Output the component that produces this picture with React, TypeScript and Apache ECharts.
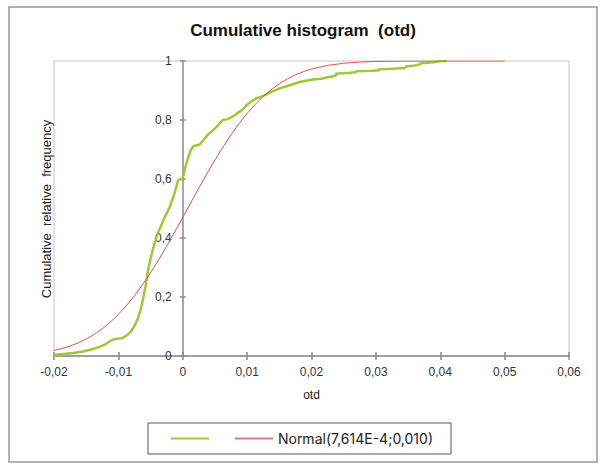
import React, { useEffect, useRef } from "react";
import * as echarts from "echarts";

const otdValues = [
  -0.02, -0.0198, -0.0185, -0.017, -0.0155, -0.0142, -0.013, -0.012, -0.0112, -0.0105,
  -0.0095, -0.0088, -0.0082, -0.0076, -0.007, -0.0065, -0.0061, -0.0057, -0.0054, -0.005,
  -0.0046, -0.004, -0.0034, -0.0028, -0.002, -0.0013, -0.0007, -0.0001, 0.0001, 0.0004,
  0.0008, 0.0013, 0.0017, 0.0026, 0.0033, 0.004, 0.0047, 0.0054, 0.0062, 0.007,
  0.0078, 0.0086, 0.0093, 0.01, 0.0106, 0.0114, 0.0125, 0.014, 0.0152, 0.0166,
  0.018, 0.0195, 0.0205, 0.0215, 0.0225, 0.0238, 0.0238, 0.026, 0.0269, 0.0269,
  0.0295, 0.0305, 0.0305, 0.0326, 0.0345, 0.0347, 0.036, 0.0368, 0.037, 0.039,
  0.0401, 0.041,
];
const cumFreq = [
  0.0, 0.004, 0.007, 0.01, 0.015, 0.022, 0.03, 0.04, 0.052, 0.058,
  0.06, 0.068, 0.08, 0.098, 0.125, 0.16, 0.2, 0.245, 0.29, 0.33,
  0.365, 0.41, 0.44, 0.47, 0.506, 0.55, 0.597, 0.6, 0.61, 0.64,
  0.67, 0.7, 0.712, 0.716, 0.735, 0.752, 0.765, 0.78, 0.8, 0.803,
  0.812, 0.825, 0.835, 0.852, 0.862, 0.873, 0.882, 0.898, 0.908, 0.918,
  0.928, 0.935, 0.938, 0.94, 0.945, 0.95, 0.957, 0.96, 0.962, 0.965,
  0.967, 0.969, 0.972, 0.974, 0.976, 0.981, 0.985, 0.988, 0.992, 0.996,
  1.0, 1.0,
];

// Normal(7,614E-4; 0,010) cumulative curve
const normalX = [
  -0.02, -0.01875, -0.0175, -0.01625, -0.015, -0.01375, -0.0125, -0.01125, -0.01, -0.00875,
  -0.0075, -0.00625, -0.005, -0.00375, -0.0025, -0.00125, 0.0, 0.00125, 0.0025, 0.00375,
  0.005, 0.00625, 0.0075, 0.00875, 0.01, 0.01125, 0.0125, 0.01375, 0.015, 0.01625,
  0.0175, 0.01875, 0.02, 0.0225, 0.025, 0.0275, 0.03, 0.0325, 0.035, 0.04, 0.05,
];
const normalP = [
  0.0189, 0.0255, 0.0339, 0.0445, 0.0575, 0.0734, 0.0924, 0.1149, 0.141, 0.1708,
  0.2044, 0.2417, 0.2823, 0.326, 0.3722, 0.4203, 0.4697, 0.5195, 0.5691, 0.6175,
  0.6642, 0.7085, 0.7498, 0.7879, 0.8222, 0.8529, 0.8798, 0.903, 0.9228, 0.9393,
  0.9529, 0.964, 0.9728, 0.9851, 0.9923, 0.9963, 0.9983, 0.9992, 0.9997, 1.0, 1.0,
];

const titleText = "Cumulative histogram  (otd)";
const xName = "otd";
const yName = "Cumulative  relative  frequency";
const normalName = "Normal(7,614E-4;0,010)";
const otdName = " ";

const FONT = "'Liberation Sans', Arial, sans-serif";

const fmt = (v: number, d: number) => {
  if (Math.abs(v) < 1e-9) return "0";
  if (Math.abs(v - 1) < 1e-9) return "1";
  return v.toFixed(d).replace(".", ",");
};

export default function App() {
  const ref = useRef<HTMLDivElement>(null);
  useEffect(() => {
    if (!ref.current) return;
    const chart = echarts.init(ref.current, undefined, { renderer: "svg" });
    const axisGray = "#8a8a8a";
    const gridLeft = 54;
    const gridRight = 37;
    const xMin = -0.02;
    const xMax = 0.06;
    const plotWidth = 606 - gridLeft - gridRight;
    // shift the y axis so that it sits at x = 0 (Excel-style crossing)
    const yOffset = -((0 - xMin) / (xMax - xMin)) * plotWidth;
    const xCommon = {
      type: "value" as const,
      min: xMin,
      max: xMax,
      interval: 0.01,
      position: "bottom" as const,
      splitLine: { show: false },
    };
    const yCommon = {
      type: "value" as const,
      min: 0,
      max: 1,
      interval: 0.2,
      position: "left" as const,
      offset: yOffset,
      splitLine: { show: false },
    };
    chart.setOption({
      animation: false,
      backgroundColor: "#ffffff",
      title: {
        text: titleText,
        left: "center",
        top: 22,
        padding: 0,
        textStyle: { fontFamily: FONT, fontSize: 17, fontWeight: "bold", color: "#111" },
      },
      grid: {
        left: gridLeft,
        right: gridRight,
        top: 61,
        bottom: 109,
        show: true,
        borderColor: "#c4c4c4",
        borderWidth: 1,
        backgroundColor: "transparent",
      },
      xAxis: [
        {
          ...xCommon,
          name: xName,
          nameLocation: "middle",
          nameGap: 33,
          nameTextStyle: { fontFamily: FONT, fontSize: 12, color: "#222" },
          axisLine: { show: true, onZero: false, lineStyle: { color: axisGray, width: 1.5 } },
          axisTick: { show: true, length: 4, lineStyle: { color: axisGray, width: 1.5 } },
          axisLabel: {
            fontFamily: FONT,
            fontSize: 12,
            color: "#333",
            margin: 10,
            formatter: (v: number) => fmt(v, 2),
          },
        },
        {
          ...xCommon,
          axisLine: { show: false, onZero: false },
          axisTick: { show: true, inside: true, length: 4, lineStyle: { color: axisGray, width: 1.5 } },
          axisLabel: { show: false },
        },
      ],
      yAxis: [
        {
          ...yCommon,
          axisLine: { show: true, onZero: false, lineStyle: { color: axisGray, width: 1.5 } },
          axisTick: { show: true, length: 3, lineStyle: { color: axisGray, width: 1.5 } },
          axisLabel: {
            fontFamily: FONT,
            fontSize: 12,
            color: "#333",
            margin: 11,
            formatter: (v: number) => fmt(v, 1),
          },
        },
        {
          ...yCommon,
          axisLine: { show: false, onZero: false },
          axisTick: { show: true, inside: true, length: 3, lineStyle: { color: axisGray, width: 1.5 } },
          axisLabel: { show: false },
        },
      ],
      legend: {
        left: 148,
        top: 423,
        orient: "horizontal",
        data: [{ name: otdName }, { name: normalName }],
        icon: "rect",
        borderColor: "#555",
        borderWidth: 1,
        padding: [8, 18, 8, 23],
        itemWidth: 38,
        itemHeight: 2,
        itemGap: 17,
        textStyle: { fontFamily: "Inter, 'Open Sans', sans-serif", fontSize: 14, color: "#222", lineHeight: 15 },
      },
      graphic: [
        {
          type: "rect",
          shape: { x: 9, y: 7, width: 588, height: 455 },
          style: { fill: "none", stroke: "#9a9a9a", lineWidth: 1.5 },
          silent: true,
          z: -10,
        },
        {
          type: "text",
          x: 46,
          y: 209,
          rotation: Math.PI / 2,
          style: {
            text: yName,
            fontFamily: FONT,
            fontSize: 13,
            fill: "#222",
            align: "center",
            verticalAlign: "middle",
          },
        },
      ],
      series: [
        {
          name: otdName,
          type: "line",
          xAxisIndex: 0,
          yAxisIndex: 0,
          symbol: "none",
          data: otdValues.map((x, i) => [x, cumFreq[i]]),
          lineStyle: { color: "#9cc83a", width: 2.5 },
          itemStyle: { color: "#9cc83a" },
          z: 3,
        },
        {
          name: normalName,
          type: "line",
          xAxisIndex: 0,
          yAxisIndex: 0,
          symbol: "none",
          data: normalX.map((x, i) => [x, normalP[i]]),
          lineStyle: { color: "#d9534f", width: 1 },
          itemStyle: { color: "#e07a76" },
          z: 4,
        },
      ],
    });
    return () => chart.dispose();
  }, []);
  return (
    <div
      ref={ref}
      style={{ position: "fixed", left: 0, top: 0, width: 606, height: 465, background: "#fff" }}
    />
  );
}
